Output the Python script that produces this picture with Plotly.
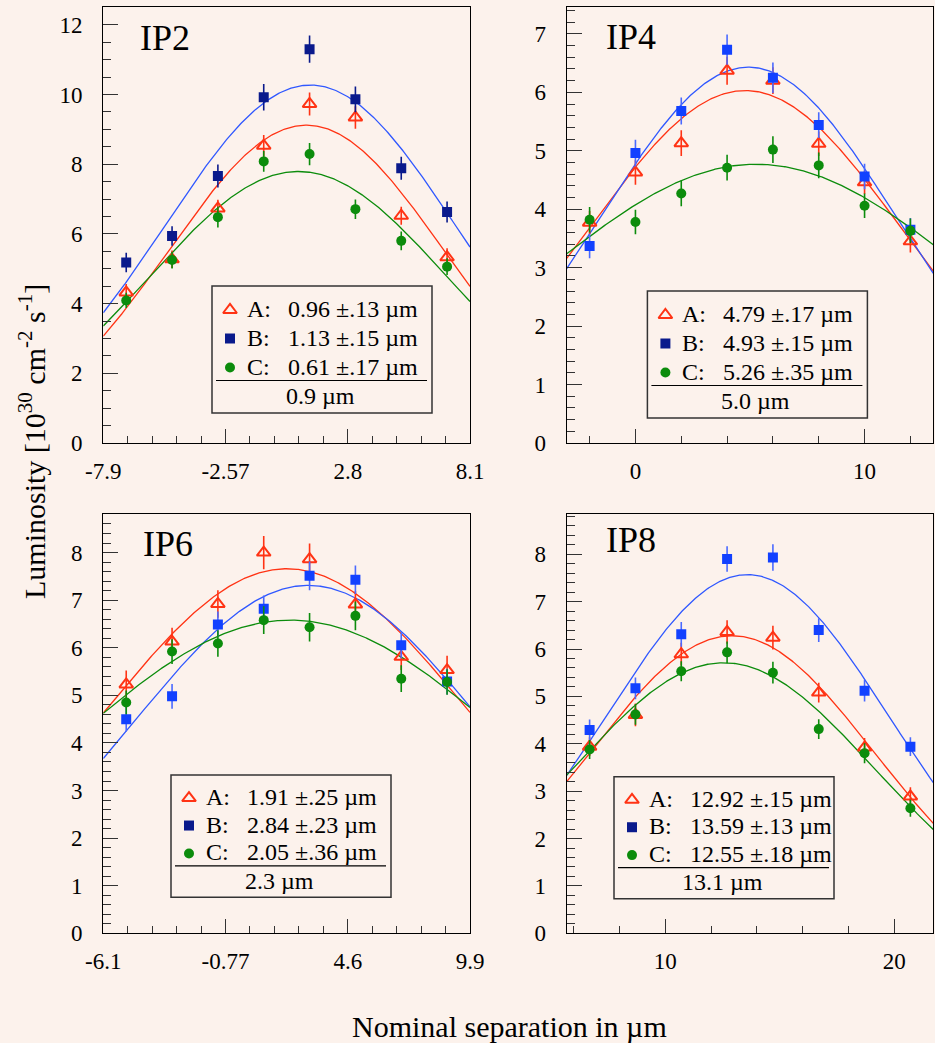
import numpy as np
import plotly.graph_objects as go

W, H = 935, 1043
BG = "#fcf2ec"
FONT = "Liberation Serif"

# ---------------- data ----------------
# IP2
ip2_x = [-6.9, -4.9, -2.9, -0.9, 1.1, 3.1, 5.1, 7.1]
ip2_A = [4.32, 5.27, 6.73, 8.53, 9.73, 9.34, 6.52, 5.33]
ip2_A_err = [0.24, 0.25, 0.25, 0.31, 0.33, 0.32, 0.26, 0.26]
ip2_B = [5.18, 5.94, 7.66, 9.92, 11.30, 9.86, 7.88, 6.63]
ip2_B_err = [0.28, 0.28, 0.33, 0.38, 0.39, 0.37, 0.33, 0.30]
ip2_C = [4.09, 5.25, 6.48, 8.08, 8.29, 6.71, 5.80, 5.06]
ip2_C_err = [0.22, 0.24, 0.30, 0.30, 0.32, 0.28, 0.27, 0.24]
ip2_fit_amp = [9.12, 10.27, 7.79]
ip2_fit_mean = [0.96, 1.13, 0.61]
ip2_fit_sigma = [6.0, 6.35, 6.56]
ip2_legend = ["0.96 \u00b1.13 \u00b5m", "1.13 \u00b1.15 \u00b5m", "0.61 \u00b1.17 \u00b5m"]
ip2_avg = "0.9 \u00b5m"
ip2_xticks = [-7.9, -2.5667, 2.7667, 8.1]
ip2_xticktext = ["-7.9", "-2.57", "2.8", "8.1"]

# IP4
ip4_x = [-2, 0, 2, 4, 6, 8, 10, 12]
ip4_A = [3.77, 4.63, 5.13, 6.37, 6.20, 5.12, 4.46, 3.45]
ip4_A_err = [0.20, 0.21, 0.22, 0.24, 0.23, 0.21, 0.20, 0.19]
ip4_B = [3.37, 4.96, 5.68, 6.73, 6.25, 5.44, 4.56, 3.65]
ip4_B_err = [0.21, 0.23, 0.23, 0.26, 0.26, 0.22, 0.22, 0.20]
ip4_C = [3.82, 3.78, 4.27, 4.71, 5.02, 4.75, 4.06, 3.63]
ip4_C_err = [0.22, 0.21, 0.22, 0.22, 0.23, 0.22, 0.21, 0.21]
ip4_fit_amp = [6.03, 6.43, 4.77]
ip4_fit_mean = [4.79, 4.93, 5.26]
ip4_fit_sigma = [6.85, 6.40, 9.38]
ip4_legend = ["4.79 \u00b1.17 \u00b5m", "4.93 \u00b1.15 \u00b5m", "5.26 \u00b1.35 \u00b5m"]
ip4_avg = "5.0 \u00b5m"
ip4_xticks = [0, 10]
ip4_xticktext = ["0", "10"]

# IP6
ip6_x = [-5.1, -3.1, -1.1, 0.9, 2.9, 4.9, 6.9, 8.9]
ip6_A = [5.23, 6.13, 6.92, 8.00, 7.86, 6.91, 5.81, 5.53]
ip6_A_err = [0.29, 0.29, 0.29, 0.35, 0.33, 0.28, 0.28, 0.30]
ip6_B = [4.50, 4.98, 6.49, 6.82, 7.51, 7.43, 6.05, 5.29]
ip6_B_err = [0.26, 0.26, 0.27, 0.28, 0.30, 0.30, 0.27, 0.27]
ip6_C = [4.85, 5.92, 6.09, 6.58, 6.43, 6.67, 5.35, 5.28]
ip6_C_err = [0.25, 0.26, 0.28, 0.29, 0.30, 0.30, 0.28, 0.27]
ip6_fit_amp = [7.66, 7.31, 6.58]
ip6_fit_mean = [1.91, 2.84, 2.05]
ip6_fit_sigma = [7.98, 7.62, 9.70]
ip6_legend = ["1.91 \u00b1.25 \u00b5m", "2.84 \u00b1.23 \u00b5m", "2.05 \u00b1.36 \u00b5m"]
ip6_avg = "2.3 \u00b5m"
ip6_xticks = [-6.1, -0.7667, 4.5667, 9.9]
ip6_xticktext = ["-6.1", "-0.77", "4.6", "9.9"]

# IP8
ip8_x = [6.7, 8.7, 10.7, 12.7, 14.7, 16.7, 18.7, 20.7]
ip8_A = [3.94, 4.61, 5.89, 6.36, 6.24, 5.08, 3.92, 2.89]
ip8_A_err = [0.20, 0.24, 0.24, 0.25, 0.25, 0.21, 0.20, 0.19]
ip8_B = [4.29, 5.17, 6.31, 7.90, 7.93, 6.40, 5.12, 3.94]
ip8_B_err = [0.22, 0.23, 0.26, 0.27, 0.28, 0.25, 0.23, 0.20]
ip8_C = [3.88, 4.62, 5.53, 5.93, 5.50, 4.31, 3.80, 2.64]
ip8_C_err = [0.20, 0.22, 0.21, 0.23, 0.23, 0.21, 0.21, 0.18]
ip8_fit_amp = [6.28, 7.57, 5.71]
ip8_fit_mean = [12.92, 13.59, 12.55]
ip8_fit_sigma = [6.22, 6.16, 6.61]
ip8_legend = ["12.92 \u00b1.15 \u00b5m", "13.59 \u00b1.13 \u00b5m", "12.55 \u00b1.18 \u00b5m"]
ip8_avg = "13.1 \u00b5m"
ip8_xticks = [10, 20]
ip8_xticktext = ["10", "20"]

series_letters = ["A:", "B:", "C:"]

# ---------------- styling / layout ----------------
RED = "#ff3314"
GREEN = "#0c8c0c"
NAVY = "#0a1a8c"
BLUE = "#1241ff"
BLUE_LINE = "#3058ff"

panels = [
    dict(name="IP2", x=ip2_x, ys=[ip2_A, ip2_B, ip2_C], errs=[ip2_A_err, ip2_B_err, ip2_C_err],
         amp=ip2_fit_amp, mean=ip2_fit_mean, sig=ip2_fit_sigma, leg=ip2_legend, avg=ip2_avg,
         xt=ip2_xticks, xtt=ip2_xticktext, xr=[-7.9, 8.1], yr=[0, 12.51], ydt=2, ymdt=0.5,
         xminor=np.linspace(-7.9, 8.1, 16), rect=(103.3, 7, 470, 443), box=(108.7, 279),
         lab=(35, 31), bcol=NAVY),
    dict(name="IP4", x=ip4_x, ys=[ip4_A, ip4_B, ip4_C], errs=[ip4_A_err, ip4_B_err, ip4_C_err],
         amp=ip4_fit_amp, mean=ip4_fit_mean, sig=ip4_fit_sigma, leg=ip4_legend, avg=ip4_avg,
         xt=ip4_xticks, xtt=ip4_xticktext, xr=[-3, 13], yr=[0, 7.46], ydt=1, ymdt=0.2,
         xminor=np.arange(-2, 13, 2), rect=(566.7, 7, 933.3, 443), box=(80.7, 284),
         lab=(37, 30), bcol=BLUE),
    dict(name="IP6", x=ip6_x, ys=[ip6_A, ip6_B, ip6_C], errs=[ip6_A_err, ip6_B_err, ip6_C_err],
         amp=ip6_fit_amp, mean=ip6_fit_mean, sig=ip6_fit_sigma, leg=ip6_legend, avg=ip6_avg,
         xt=ip6_xticks, xtt=ip6_xticktext, xr=[-6.1, 9.9], yr=[0, 8.81], ydt=1, ymdt=0.2,
         xminor=np.linspace(-6.1, 9.9, 16), rect=(103.3, 514, 470, 933.3), box=(67.7, 261),
         lab=(38, 30), bcol=BLUE),
    dict(name="IP8", x=ip8_x, ys=[ip8_A, ip8_B, ip8_C], errs=[ip8_A_err, ip8_B_err, ip8_C_err],
         amp=ip8_fit_amp, mean=ip8_fit_mean, sig=ip8_fit_sigma, leg=ip8_legend, avg=ip8_avg,
         xt=ip8_xticks, xtt=ip8_xticktext, xr=[5.7, 21.7], yr=[0, 8.85], ydt=1, ymdt=0.2,
         xminor=np.arange(6, 22, 2), rect=(566.7, 514, 933.3, 933.3), box=(47.3, 262.7),
         lab=(37, 26), bcol=BLUE),
]


def px(x, y):
    return x / W, 1 - y / H


fig = go.Figure()
layout = dict(
    template="none",
    width=W, height=H, margin=dict(l=0, r=0, t=0, b=0, pad=0, autoexpand=False),
    paper_bgcolor=BG, plot_bgcolor="rgba(0,0,0,0)", showlegend=False,
    font=dict(family=FONT, size=22, color="black"),
)
annotations = []
shapes = []

tickfont = dict(family=FONT, size=23, color="black")

for i, p in enumerate(panels):
    n = i + 1
    xa = "x" if n == 1 else f"x{n}"
    ya = "y" if n == 1 else f"y{n}"
    x0, y0, x1, y1 = p["rect"]
    dx = [x0 / W, x1 / W]
    dy = [1 - y1 / H, 1 - y0 / H]
    minor_vals = [float(v) for v in p["xminor"] if all(abs(v - t) > 1e-3 for t in p["xt"])]
    layout["xaxis" if n == 1 else f"xaxis{n}"] = dict(
        domain=dx, range=p["xr"], anchor=ya, showgrid=False, zeroline=False, automargin=False,
        showline=True, mirror=True, linecolor="black", linewidth=1.3,
        ticks="inside", ticklen=14, tickwidth=1, tickcolor="#333",
        tickmode="array", tickvals=p["xt"], ticktext=p["xtt"], tickfont=tickfont,
        ticklabelstandoff=7,
        minor=dict(ticks="inside", ticklen=7, tickwidth=1, tickcolor="#333",
                   tickmode="array", tickvals=minor_vals, showgrid=False),
    )
    layout["yaxis" if n == 1 else f"yaxis{n}"] = dict(
        domain=dy, range=p["yr"], anchor=xa, showgrid=False, zeroline=False, automargin=False,
        showline=True, mirror=True, linecolor="black", linewidth=1.3,
        ticks="inside", ticklen=15, tickwidth=1, tickcolor="#333",
        tickmode="linear", tick0=0, dtick=p["ydt"], tickfont=tickfont,
        ticklabelstandoff=15,
        minor=dict(ticks="inside", ticklen=8, tickwidth=1, tickcolor="#333",
                   tickmode="linear", tick0=0, dtick=p["ymdt"], showgrid=False),
    )

    xs = np.linspace(p["xr"][0], p["xr"][1], 300)
    styles = [
        dict(symbol="triangle-up-open", size=12, color=RED, line=dict(color=RED, width=2)),
        dict(symbol="square", size=10, color=p["bcol"], line=dict(width=0)),
        dict(symbol="circle", size=10, color=GREEN, line=dict(width=0)),
    ]
    lcols = [RED, BLUE_LINE, GREEN]
    ecols = [RED, p["bcol"] if p["name"] == "IP2" else "#4a6aff", GREEN]
    for k in range(3):
        curve = p["amp"][k] * np.exp(-0.5 * ((xs - p["mean"][k]) / p["sig"][k]) ** 2)
        fig.add_trace(go.Scatter(x=xs, y=curve, mode="lines", xaxis=xa, yaxis=ya,
                                 line=dict(color=lcols[k], width=1.3), hoverinfo="skip"))
    for k in range(3):
        fig.add_trace(go.Scatter(
            x=p["x"], y=p["ys"][k], mode="markers", xaxis=xa, yaxis=ya,
            marker=styles[k],
            error_y=dict(type="data", array=p["errs"][k], width=0, thickness=1.6,
                         color=ecols[k]),
        ))

    # panel label
    lx, ly = px(x0 + p["lab"][0], y0 + p["lab"][1])
    annotations.append(dict(x=lx, y=ly, xref="paper", yref="paper", text=p["name"],
                            showarrow=False, xanchor="left", yanchor="middle",
                            font=dict(family=FONT, size=36, color="black")))

    # legend box
    ph = y1 - y0
    s = ph / 436.0
    bx = x0 + p["box"][0]
    by = y0 + p["box"][1]
    bw = 220
    bh = 127 * s
    bxa, bya = px(bx, by)
    bxb, byb = px(bx + bw, by + bh)
    shapes.append(dict(type="rect", xref="paper", yref="paper", x0=bxa, x1=bxb, y0=byb, y1=bya,
                       line=dict(color="#333", width=1.5), fillcolor=BG, layer="below"))
    la, lb = px(bx + 4, by + 94.5 * s)
    lc, _ = px(bx + 215, by + 94.5 * s)
    shapes.append(dict(type="line", xref="paper", yref="paper", x0=la, x1=lc, y0=lb, y1=lb,
                       line=dict(color="black", width=1.2), layer="above"))
    row_off = [23, 51.5, 80.5]
    for k in range(3):
        ry = by + row_off[k] * s
        ax, ay = px(bx + 33, ry)
        annotations.append(dict(x=ax, y=ay, xref="paper", yref="paper", text=series_letters[k],
                                showarrow=False, xanchor="left", yanchor="middle",
                                font=dict(family=FONT, size=24, color="black")))
        ax, ay = px(bx + 74, ry)
        annotations.append(dict(x=ax, y=ay, xref="paper", yref="paper", text=p["leg"][k],
                                showarrow=False, xanchor="left", yanchor="middle",
                                font=dict(family=FONT, size=24, color="black")))
        mx, my = px(bx + 18, ry + 1)
        lstyle = dict(styles[k])
        if k == 1:
            lstyle = dict(symbol="square", size=10, color=NAVY, line=dict(width=0))
        fig.add_trace(go.Scatter(x=[mx], y=[my], mode="markers", xaxis="x5", yaxis="y5",
                                 marker=lstyle, hoverinfo="skip"))
    ax, ay = px(bx + 108, by + 110 * s)
    annotations.append(dict(x=ax, y=ay, xref="paper", yref="paper", text=p["avg"],
                            showarrow=False, xanchor="center", yanchor="middle",
                            font=dict(family=FONT, size=24, color="black")))

# overlay axis for legend markers (paper-like coordinates)
layout["xaxis5"] = dict(domain=[0, 1], range=[0, 1], visible=False, anchor="y5",
                        fixedrange=True, automargin=False)
layout["yaxis5"] = dict(domain=[0, 1], range=[0, 1], visible=False, anchor="x5",
                        fixedrange=True, automargin=False)

# axis titles
tx, ty = px(32, 442)
annotations.append(dict(x=tx, y=ty, xref="paper", yref="paper",
                        text="Luminosity [10<sup>30</sup> cm<sup>-2</sup> s<sup>-1</sup>]",
                        textangle=-90, showarrow=False, xanchor="center", yanchor="middle",
                        font=dict(family=FONT, size=30, color="black")))
tx, ty = px(509, 1026)
annotations.append(dict(x=tx, y=ty, xref="paper", yref="paper",
                        text="Nominal separation in \u00b5m", showarrow=False,
                        xanchor="center", yanchor="middle",
                        font=dict(family=FONT, size=30, color="black")))

layout["annotations"] = annotations
layout["shapes"] = shapes
fig.update_layout(**layout)
fig.write_html("out.html", config={"displayModeBar": False},
               post_script="document.body.style.margin='0';")
